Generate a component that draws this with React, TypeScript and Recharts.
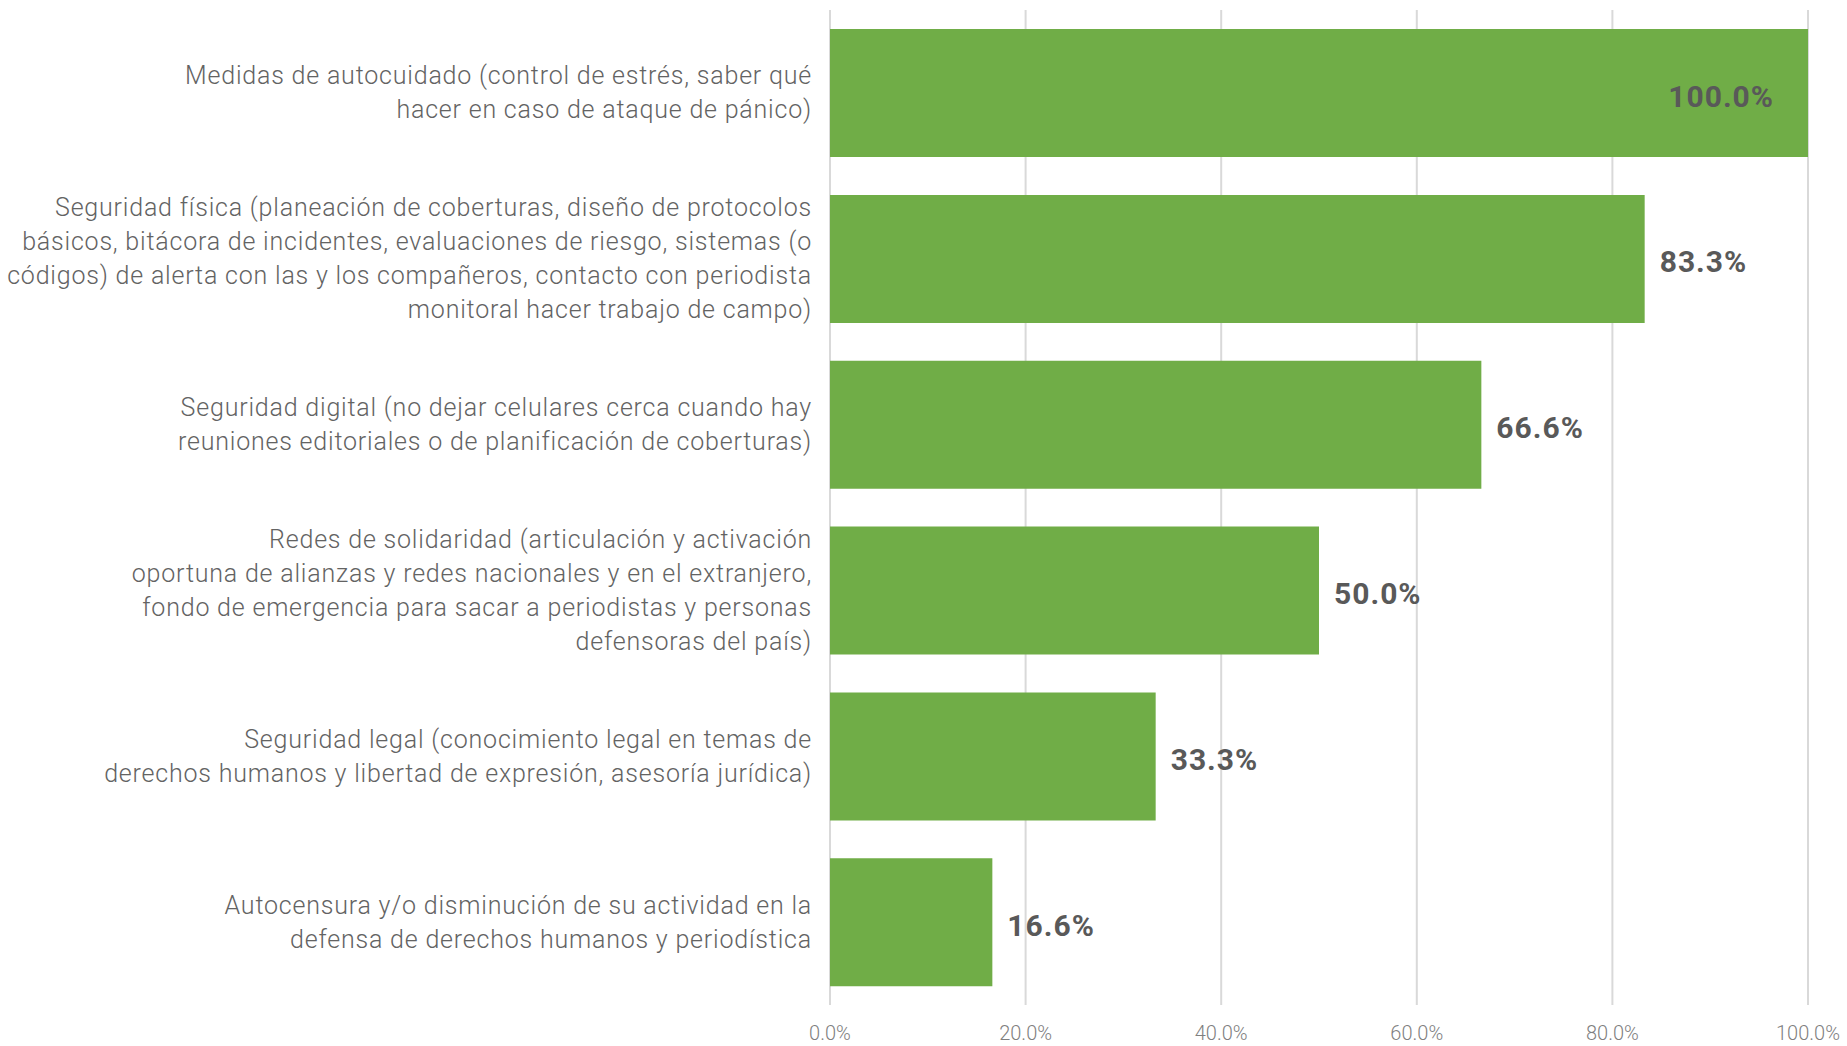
import { BarChart, Bar, XAxis, YAxis, CartesianGrid, LabelList } from "recharts";

const categories = [
  "Medidas de autocuidado (control de estrés, saber qué\nhacer en caso de ataque de pánico)",
  "Seguridad física (planeación de coberturas, diseño de protocolos\nbásicos, bitácora de incidentes, evaluaciones de riesgo, sistemas (o\ncódigos) de alerta con las y los compañeros, contacto con periodista\nmonitoral hacer trabajo de campo)",
  "Seguridad digital (no dejar celulares cerca cuando hay\nreuniones editoriales o de planificación de coberturas)",
  "Redes de solidaridad (articulación y activación\noportuna de alianzas y redes nacionales y en el extranjero,\nfondo de emergencia para sacar a periodistas y personas\ndefensoras del país)",
  "Seguridad legal (conocimiento legal en temas de\nderechos humanos y libertad de expresión, asesoría jurídica)",
  "Autocensura y/o disminución de su actividad en la\ndefensa de derechos humanos y periodística",
];

const values = [100, 83.3, 66.6, 50.0, 33.3, 16.6];

const xTicks = [0, 20, 40, 60, 80, 100];

const data = categories.map((name, i) => ({ name, value: values[i] }));

const LINE_HEIGHT = 34;

// multi-line, right-aligned category label
function CategoryTick(props: any) {
  const { x, y, payload } = props;
  const lines: string[] = String(payload.value).split("\n");
  const startY = y - ((lines.length - 1) * LINE_HEIGHT) / 2;
  return (
    <text
      x={x}
      y={startY}
      textAnchor="end"
      fill="#636363"
      style={{ fontFamily: "Roboto", fontWeight: 300, fontSize: 25, letterSpacing: 0.8 }}
    >
      {lines.map((line, i) => (
        <tspan key={i} x={x} y={startY + i * LINE_HEIGHT} dominantBaseline="central">
          {line}
        </tspan>
      ))}
    </text>
  );
}

// value label: inside the bar when it is full, otherwise just past its end
function ValueLabel(props: any) {
  const { x, y, width, height, value } = props;
  const inside = value >= 100;
  const tx = inside ? x + width - 34 : x + width + 15;
  return (
    <text
      x={tx}
      y={y + height / 2 + 3}
      textAnchor={inside ? "end" : "start"}
      dominantBaseline="central"
      fill="#595959"
      style={{ fontFamily: "Roboto", fontWeight: 700, fontSize: 30, letterSpacing: 1 }}
    >
      {`${Number(value).toFixed(1)}%`}
    </text>
  );
}

export default function App() {
  return (
    <div style={{ position: "absolute", left: 0, top: 0, background: "#fff" }}>
      <BarChart
        width={1847}
        height={1046}
        data={data}
        layout="vertical"
        margin={{ top: 10, right: 39, left: 0, bottom: 0 }}
        barCategoryGap="11.5%"
      >
        <CartesianGrid horizontal={false} stroke="#d9d9d9" strokeWidth={2} />
        <XAxis
          type="number"
          domain={[0, 100]}
          ticks={xTicks}
          tickFormatter={(v: number) => `${v.toFixed(1)}%`}
          axisLine={false}
          tickLine={false}
          height={41}
          tickMargin={15}
          tick={{ fill: "#7f7f7f", fontSize: 20, fontFamily: "Roboto", fontWeight: 300 }}
        />
        <YAxis
          type="category"
          dataKey="name"
          width={830}
          axisLine={false}
          tickLine={false}
          tickMargin={12}
          tick={<CategoryTick />}
          interval={0}
        />
        <Bar dataKey="value" fill="#70ad47" isAnimationActive={false}>
          <LabelList dataKey="value" content={<ValueLabel />} />
        </Bar>
      </BarChart>
    </div>
  );
}
